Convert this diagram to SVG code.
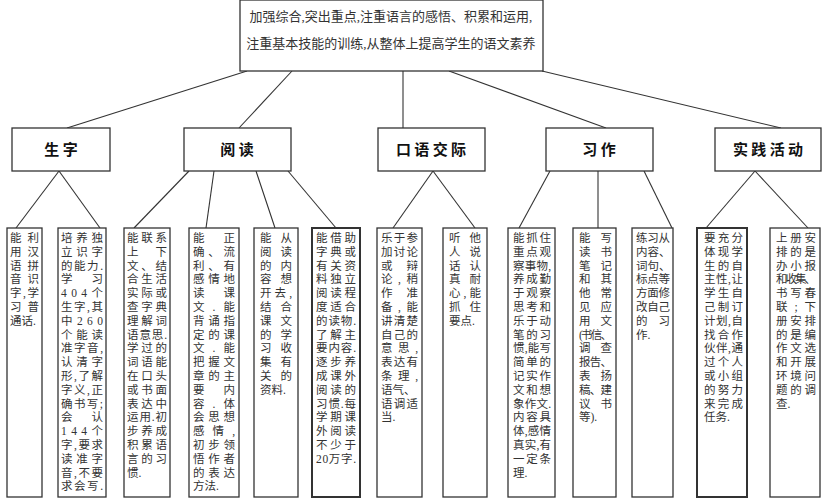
<svg xmlns="http://www.w3.org/2000/svg" width="822" height="500" viewBox="0 0 822 500">
<style>
rect{fill:#fff;stroke:#333;stroke-width:1.3}
line{stroke:#333;stroke-width:1.1}
text{font-family:"Liberation Serif","Noto Sans CJK SC",serif;font-size:11.5px;fill:#333}
.h{font-family:"Noto Sans CJK SC",sans-serif;font-size:15px;font-weight:bold;text-anchor:middle;fill:#111}
.t{font-size:13px;text-anchor:middle}
</style>
<rect width="822" height="500" style="stroke:none"/>
<g id="connectors">
<line x1="247" y1="71" x2="67" y2="128"/><line x1="292" y1="71" x2="239" y2="128"/><line x1="403" y1="71" x2="403" y2="128"/><line x1="449" y1="71" x2="606" y2="128"/><line x1="542" y1="71" x2="781" y2="128"/>
<line x1="59" y1="171" x2="16" y2="228"/><line x1="59" y1="171" x2="100" y2="228"/>
<line x1="189" y1="171" x2="134" y2="228"/><line x1="214" y1="171" x2="206" y2="228"/><line x1="256" y1="171" x2="275" y2="228"/><line x1="288" y1="171" x2="336" y2="228"/>
<line x1="433" y1="171" x2="393" y2="228"/><line x1="433" y1="171" x2="475" y2="228"/>
<line x1="550" y1="171" x2="519" y2="228"/><line x1="598" y1="171" x2="598" y2="228"/><line x1="644" y1="171" x2="672" y2="228"/>
<line x1="755" y1="171" x2="706" y2="228"/><line x1="755" y1="171" x2="808" y2="228"/>
</g>
<g id="root"><rect x="240" y="0" width="303" height="71"/>
<text class="t" x="391" y="21">加强综合,突出重点,注重语言的感悟、积累和运用,</text>
<text class="t" x="391" y="48">注重基本技能的训练,从整体上提高学生的语文素养</text></g>
<g id="n1"><rect x="12" y="128" width="98" height="43"/><text class="h" x="61" y="155">生  字</text></g>
<g id="n2"><rect x="184" y="128" width="107" height="43"/><text class="h" x="237" y="155">阅  读</text></g>
<g id="n3"><rect x="378" y="128" width="107" height="43"/><text class="h" x="431" y="155">口 语 交 际</text></g>
<g id="n4"><rect x="546" y="128" width="107" height="43"/><text class="h" x="599" y="155">习  作</text></g>
<g id="n5"><rect x="715" y="128" width="106" height="43"/><text class="h" x="768" y="155">实 践 活 动</text></g>

<g id="l1" transform="translate(7,0)"><rect x="0" y="228" width="35" height="269"/>
<text x="3" y="242" textLength="29">能利</text><text x="3" y="255.8" textLength="29">用汉</text><text x="3" y="269.6" textLength="29">语拼</text><text x="3" y="283.4" textLength="29">音识</text><text x="3" y="297.2" textLength="29">字,学</text><text x="3" y="311" textLength="29">习普</text><text x="3" y="324.8">通话.</text></g>

<g id="l2" transform="translate(58,0)"><rect x="0" y="228" width="48" height="269"/>
<text x="3" y="242" textLength="42">培养独</text><text x="3" y="255.8" textLength="42">立识字</text><text x="3" y="269.6" textLength="42">的能力.</text><text x="3" y="283.4" textLength="42">学习</text><text x="3" y="297.2" textLength="42">404个</text><text x="3" y="311" textLength="42">生字,其</text><text x="3" y="324.8" textLength="42">中260</text><text x="3" y="338.6" textLength="42">个能读</text><text x="3" y="352.4" textLength="42">准字音,</text><text x="3" y="366.2" textLength="42">认清字</text><text x="3" y="380" textLength="42">形,了解</text><text x="3" y="393.8" textLength="42">字义,正</text><text x="3" y="407.6" textLength="42">确书写;</text><text x="3" y="421.4" textLength="42">会认</text><text x="3" y="435.2" textLength="42">144个</text><text x="3" y="449" textLength="42">字,要求</text><text x="3" y="462.8" textLength="42">读准字</text><text x="3" y="476.6" textLength="42">音,不要</text><text x="3" y="490.4" textLength="42">求会写.</text></g>

<g id="l3" transform="translate(124,0)"><rect x="0" y="228" width="46" height="269"/>
<text x="3" y="242" textLength="40">能联系</text><text x="3" y="255.8" textLength="40">上下</text><text x="3" y="269.6" textLength="40">文、结</text><text x="3" y="283.4" textLength="40">合生活</text><text x="3" y="297.2" textLength="40">实际或</text><text x="3" y="311" textLength="40">查字典</text><text x="3" y="324.8" textLength="40">理解词</text><text x="3" y="338.6" textLength="40">语意思.</text><text x="3" y="352.4" textLength="40">学过的</text><text x="3" y="366.2" textLength="40">词语能</text><text x="3" y="380" textLength="40">在口头</text><text x="3" y="393.8" textLength="40">或书面</text><text x="3" y="407.6" textLength="40">表达中</text><text x="3" y="421.4" textLength="40">运用.初</text><text x="3" y="435.2" textLength="40">步养成</text><text x="3" y="449" textLength="40">积累语</text><text x="3" y="462.8" textLength="40">言的习</text><text x="3" y="476.6">惯.</text></g>

<g id="l4" transform="translate(189,0)"><rect x="0" y="228" width="50" height="269"/>
<text x="4" y="242" textLength="42">能正</text><text x="4" y="255.8" textLength="42">确、流</text><text x="4" y="269.6" textLength="42">利、有</text><text x="4" y="283.4" textLength="42">感情地</text><text x="4" y="297.2" textLength="42">读课</text><text x="4" y="311" textLength="42">文.能</text><text x="4" y="324.8" textLength="42">背诵指</text><text x="4" y="338.6" textLength="42">定的课</text><text x="4" y="352.4" textLength="42">文.能</text><text x="4" y="366.2" textLength="42">把握文</text><text x="4" y="380" textLength="42">章的主</text><text x="4" y="393.8" textLength="42">要内</text><text x="4" y="407.6" textLength="42">容.体</text><text x="4" y="421.4" textLength="42">会思想</text><text x="4" y="435.2" textLength="42">感情,</text><text x="4" y="449" textLength="42">初步领</text><text x="4" y="462.8" textLength="42">悟作者</text><text x="4" y="476.6" textLength="42">的表达</text><text x="4" y="490.4">方法.</text></g>

<g id="l5" transform="translate(254,0)"><rect x="0" y="228" width="44" height="269"/>
<text x="6" y="242" textLength="32">能从</text><text x="6" y="255.8" textLength="32">阅读</text><text x="6" y="269.6" textLength="32">的内</text><text x="6" y="283.4" textLength="32">容想</text><text x="6" y="297.2" textLength="32">开去,</text><text x="6" y="311" textLength="32">结合</text><text x="6" y="324.8" textLength="32">课文</text><text x="6" y="338.6" textLength="32">的学</text><text x="6" y="352.4" textLength="32">习收</text><text x="6" y="366.2" textLength="32">集有</text><text x="6" y="380" textLength="32">关的</text><text x="6" y="393.8">资料.</text></g>

<g id="l6" transform="translate(312,0)"><rect x="0" y="228" width="48" height="269" style="stroke-width:2"/>
<text x="4" y="242" textLength="40">能借助</text><text x="4" y="255.8" textLength="40">字典或</text><text x="4" y="269.6" textLength="40">有关资</text><text x="4" y="283.4" textLength="40">料独立</text><text x="4" y="297.2" textLength="40">阅读程</text><text x="4" y="311" textLength="40">度适合</text><text x="4" y="324.8" textLength="40">的读物.</text><text x="4" y="338.6" textLength="40">了解主</text><text x="4" y="352.4" textLength="40">要内容.</text><text x="4" y="366.2" textLength="40">逐步养</text><text x="4" y="380" textLength="40">成课外</text><text x="4" y="393.8" textLength="40">阅读的</text><text x="4" y="407.6" textLength="40">习惯.每</text><text x="4" y="421.4" textLength="40">学期课</text><text x="4" y="435.2" textLength="40">外阅读</text><text x="4" y="449" textLength="40">不少于</text><text x="4" y="462.8" textLength="40">20万字.</text></g>

<g id="l7" transform="translate(377,0)"><rect x="0" y="228" width="45" height="269"/>
<text x="4" y="242" textLength="37">乐于参</text><text x="4" y="255.8" textLength="37">加讨论</text><text x="4" y="269.6" textLength="37">或辩</text><text x="4" y="283.4" textLength="37">论,稍</text><text x="4" y="297.2" textLength="37">作准</text><text x="4" y="311" textLength="37">备,能</text><text x="4" y="324.8" textLength="37">讲清楚</text><text x="4" y="338.6" textLength="37">自己的</text><text x="4" y="352.4" textLength="37">意思,</text><text x="4" y="366.2" textLength="37">表达有</text><text x="4" y="380" textLength="37">条理,</text><text x="4" y="393.8">语气、</text><text x="4" y="407.6" textLength="37">语调适</text><text x="4" y="421.4">当.</text></g>

<g id="l8" transform="translate(443,0)"><rect x="0" y="228" width="44" height="269"/>
<text x="6" y="242" textLength="32">听他</text><text x="6" y="255.8" textLength="32">人说</text><text x="6" y="269.6" textLength="32">话认</text><text x="6" y="283.4" textLength="32">真耐</text><text x="6" y="297.2" textLength="32">心,能</text><text x="6" y="311" textLength="32">抓住</text><text x="6" y="324.8">要点.</text></g>

<g id="l9" transform="translate(508,0)"><rect x="0" y="228" width="47" height="269"/>
<text x="5" y="242" textLength="38">能抓住</text><text x="5" y="255.8" textLength="38">重点观</text><text x="5" y="269.6" textLength="38">察事物,</text><text x="5" y="283.4" textLength="38">养成勤</text><text x="5" y="297.2" textLength="38">于观察</text><text x="5" y="311" textLength="38">思考和</text><text x="5" y="324.8" textLength="38">乐于动</text><text x="5" y="338.6" textLength="38">笔的习</text><text x="5" y="352.4" textLength="38">惯,能写</text><text x="5" y="366.2" textLength="38">简单的</text><text x="5" y="380" textLength="38">记实作</text><text x="5" y="393.8" textLength="38">文和想</text><text x="5" y="407.6" textLength="38">象作文.</text><text x="5" y="421.4" textLength="38">内容具</text><text x="5" y="435.2" textLength="38">体,感情</text><text x="5" y="449" textLength="38">真实,有</text><text x="5" y="462.8" textLength="38">一定条</text><text x="5" y="476.6">理.</text></g>

<g id="l10" transform="translate(573,0)"><rect x="0" y="228" width="43" height="269"/>
<text x="6" y="242" textLength="33">能写</text><text x="6" y="255.8" textLength="33">读书</text><text x="6" y="269.6" textLength="33">笔记</text><text x="6" y="283.4" textLength="33">和其</text><text x="6" y="297.2" textLength="33">他常</text><text x="6" y="311" textLength="33">见应</text><text x="6" y="324.8" textLength="33">用文</text><text x="6" y="338.6" textLength="33">(书信、</text><text x="6" y="352.4" textLength="33">调查</text><text x="6" y="366.2" textLength="33">报告、</text><text x="6" y="380" textLength="33">表扬</text><text x="6" y="393.8" textLength="33">稿、建</text><text x="6" y="407.6" textLength="33">议书</text><text x="6" y="421.4">等).</text></g>

<g id="l11" transform="translate(632,0)"><rect x="0" y="228" width="41" height="269"/>
<text x="4" y="242" textLength="34">练习从</text><text x="4" y="255.8">内容、</text><text x="4" y="269.6">词句、</text><text x="4" y="283.4" textLength="34">标点等</text><text x="4" y="297.2" textLength="34">方面修</text><text x="4" y="311" textLength="34">改自己</text><text x="4" y="324.8" textLength="34">的习</text><text x="4" y="338.6">作.</text></g>

<g id="l12" transform="translate(697,0)"><rect x="0" y="228" width="50" height="269" style="stroke-width:2"/>
<text x="7" y="242" textLength="39">要充分</text><text x="7" y="255.8" textLength="39">体现学</text><text x="7" y="269.6" textLength="39">生的自</text><text x="7" y="283.4" textLength="39">主性,让</text><text x="7" y="297.2" textLength="39">学生自</text><text x="7" y="311" textLength="39">己制订</text><text x="7" y="324.8" textLength="39">计划,自</text><text x="7" y="338.6" textLength="39">找合作</text><text x="7" y="352.4" textLength="39">伙伴,通</text><text x="7" y="366.2" textLength="39">过个人</text><text x="7" y="380" textLength="39">或小组</text><text x="7" y="393.8" textLength="39">的努力</text><text x="7" y="407.6" textLength="39">来完成</text><text x="7" y="421.4">任务.</text></g>

<g id="l13" transform="translate(770,0)"><rect x="0" y="228" width="50" height="269"/>
<text x="6" y="242" textLength="40">上册安</text><text x="6" y="255.8" textLength="40">排的是</text><text x="6" y="269.6" textLength="40">办小报</text><text x="6" y="283.4" textLength="40">和收集、</text><text x="6" y="297.2" textLength="40">书写春</text><text x="6" y="311" textLength="40">联;下</text><text x="6" y="324.8" textLength="40">册安排</text><text x="6" y="338.6" textLength="40">的是编</text><text x="6" y="352.4" textLength="40">作文选</text><text x="6" y="366.2" textLength="40">和开展</text><text x="6" y="380" textLength="40">环境问</text><text x="6" y="393.8" textLength="40">题的调</text><text x="6" y="407.6">查.</text></g>
</svg>
